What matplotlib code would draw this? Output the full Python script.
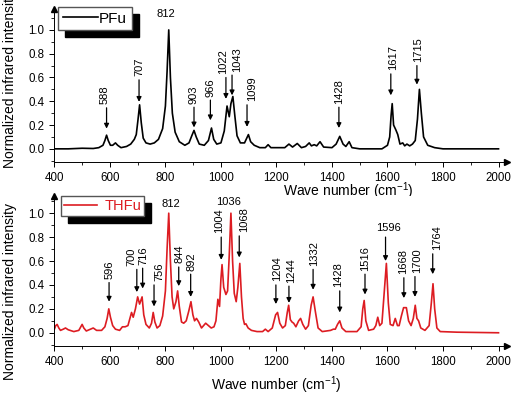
import matplotlib
matplotlib.use('Agg')
import matplotlib.pyplot as plt
from matplotlib.ticker import MultipleLocator

plt.rcParams['font.family'] = ['Liberation Sans', 'DejaVu Sans']
plt.rcParams['mathtext.fontset'] = 'custom'
plt.rcParams['mathtext.rm'] = 'Liberation Sans'

# spectra (wavenumber, normalized intensity)

pfu_x = [400, 450, 500, 540, 560, 575, 582, 588, 594, 602, 610, 620, 628, 640, 660,
         675, 688, 695, 701, 707, 713, 720, 730, 745, 760, 775, 790, 800, 806, 812,
         818, 825, 835, 850, 870, 885, 895, 903, 911, 922, 940, 955, 966, 974, 985,
         1000, 1012, 1022, 1030, 1036, 1043, 1050, 1058, 1070, 1085, 1093, 1099, 1107,
         1120, 1140, 1160, 1170, 1180, 1230, 1245, 1258, 1275, 1290, 1305, 1318, 1326,
         1336, 1345, 1357, 1370, 1400, 1415, 1428, 1440, 1450, 1462, 1472, 1500, 1580,
         1600, 1608, 1613, 1617, 1622, 1630, 1637, 1645, 1655, 1662, 1670, 1680, 1690,
         1700, 1708, 1715, 1722, 1730, 1745, 1770, 1800, 2000]
pfu_y = [0.0, 0.0, 0.005, 0.003, 0.01, 0.03, 0.07, 0.115, 0.07, 0.03, 0.03, 0.05, 0.03, 0.01, 0.02,
         0.04, 0.08, 0.12, 0.24, 0.37, 0.22, 0.09, 0.05, 0.04, 0.05, 0.08, 0.17, 0.36, 0.65, 1.0,
         0.6, 0.3, 0.14, 0.06, 0.03, 0.05, 0.11, 0.155, 0.1, 0.04, 0.03, 0.07, 0.175, 0.08, 0.04,
         0.05, 0.15, 0.36, 0.27, 0.38, 0.44, 0.28, 0.11, 0.05, 0.05, 0.09, 0.12, 0.06,
         0.03, 0.01, 0.01, 0.035, 0.01, 0.01, 0.04, 0.015, 0.045, 0.01, 0.02, 0.05, 0.025,
         0.035, 0.025, 0.06, 0.015, 0.01, 0.04, 0.105, 0.04, 0.02, 0.06, 0.01, 0.0, 0.0,
         0.03, 0.1, 0.28, 0.38, 0.2, 0.16, 0.12, 0.04, 0.05, 0.025, 0.04, 0.025, 0.04,
         0.07, 0.25, 0.5, 0.3, 0.1, 0.03, 0.01, 0.0, 0.0]

thfu_x = [400, 405, 410, 416, 422, 432, 440, 450, 470, 488, 495, 500, 506, 515, 530,
          540, 552, 570, 582, 590, 596, 602, 610, 620, 635, 645, 655, 665, 672, 678,
          684, 692, 700, 707, 716, 722, 730, 742, 750, 756, 762, 770, 780, 790, 800,
          806, 812, 818, 824, 830, 838, 844, 850, 858, 866, 875, 884, 892, 899, 905,
          912, 920, 930, 945, 955, 965, 975, 982, 989, 995, 1000, 1004, 1010, 1018, 1024,
          1030, 1036, 1042, 1048, 1055, 1061, 1068, 1074, 1080, 1085, 1090, 1098, 1110, 1130,
          1150, 1160, 1170, 1185, 1197, 1204, 1212, 1222, 1232, 1239, 1244, 1250, 1256, 1262,
          1270, 1280, 1287, 1295, 1305, 1315, 1325, 1332, 1340, 1350, 1365, 1395, 1405, 1412,
          1420, 1428, 1436, 1450, 1490, 1505, 1511, 1516, 1522, 1532, 1550, 1558, 1565, 1572,
          1580, 1587, 1596, 1603, 1610, 1620, 1628, 1636, 1642, 1650, 1658, 1668, 1676, 1685,
          1693, 1700, 1706, 1712, 1720, 1735, 1750, 1758, 1764, 1770, 1778, 1790, 1850, 2000]
thfu_y = [0.03, 0.06, 0.07, 0.04, 0.02, 0.03, 0.04, 0.025, 0.01, 0.02, 0.05, 0.07, 0.04, 0.015, 0.03,
          0.04, 0.02, 0.02, 0.05, 0.12, 0.2, 0.13, 0.06, 0.03, 0.02, 0.05, 0.05, 0.06, 0.12, 0.17,
          0.13, 0.2, 0.3, 0.24, 0.3, 0.15, 0.07, 0.04, 0.08, 0.17, 0.09, 0.04, 0.06, 0.14, 0.35,
          0.7, 1.0, 0.6, 0.3, 0.2, 0.26, 0.35, 0.22, 0.09, 0.08, 0.1, 0.18, 0.26, 0.15, 0.1,
          0.12, 0.09, 0.04, 0.08, 0.06, 0.04, 0.05, 0.1, 0.28, 0.22, 0.45, 0.57, 0.38, 0.32, 0.35,
          0.65, 1.0, 0.6, 0.33, 0.26, 0.38, 0.58, 0.3, 0.12, 0.07, 0.075, 0.04, 0.02, 0.01,
          0.01, 0.03, 0.01, 0.04, 0.15, 0.17, 0.08, 0.04, 0.06, 0.17, 0.23, 0.11, 0.09, 0.08,
          0.05, 0.1, 0.12, 0.07, 0.03, 0.06, 0.23, 0.3, 0.18, 0.04, 0.01, 0.02, 0.03, 0.03,
          0.07, 0.1, 0.04, 0.01, 0.01, 0.05, 0.2, 0.27, 0.1, 0.02, 0.03, 0.06, 0.13, 0.06,
          0.08, 0.3, 0.58, 0.25, 0.07, 0.06, 0.12, 0.06, 0.06, 0.14, 0.21, 0.21, 0.1, 0.06,
          0.12, 0.23, 0.12, 0.1, 0.04, 0.02, 0.06, 0.25, 0.41, 0.2, 0.04, 0.01, 0.005, 0.0]

# peak labels: label, arrow x, arrow tail y, arrow tip y, label x
pfu_labels = ['588', '707', '903', '966', '1022', '1043', '1099', '1428', '1617', '1715']
pfu_arrow_x = [588, 705, 903, 962, 1018, 1040, 1094, 1425, 1612, 1706]
pfu_tail = [0.345, 0.58, 0.35, 0.41, 0.6, 0.62, 0.37, 0.35, 0.63, 0.7]
pfu_tip = [0.17, 0.395, 0.18, 0.24, 0.42, 0.45, 0.185, 0.175, 0.45, 0.54]
pfu_label_x = [582, 708, 900, 961, 1007, 1058, 1112, 1425, 1620, 1710]

thfu_labels = ['596', '700', '716', '756', '844', '892', '1004', '1068', '1204', '1244',
               '1332', '1428', '1516', '1596', '1668', '1700', '1764']
thfu_arrow_x = [597, 697, 718, 759, 848, 891, 1001, 1066, 1198, 1245,
                1332, 1428, 1519, 1593, 1659, 1699, 1763]
thfu_tail = [0.42, 0.53, 0.54, 0.40, 0.55, 0.49, 0.8, 0.81, 0.40, 0.39,
             0.53, 0.35, 0.49, 0.8, 0.46, 0.47, 0.66]
thfu_tip = [0.26, 0.34, 0.37, 0.22, 0.39, 0.30, 0.61, 0.63, 0.24, 0.25,
            0.36, 0.17, 0.32, 0.6, 0.29, 0.30, 0.49]
thfu_label_x = [600, 679, 720, 777, 852, 894, 994, 1084, 1202, 1251,
                1335, 1422, 1519, None, 1657, 1705, 1777]

red = '#dd1c22'

fig = plt.figure(figsize=(5.13, 3.94), dpi=100)
ax1 = fig.add_axes([0.106, 0.589, 0.882, 0.388])
ax2 = fig.add_axes([0.106, 0.122, 0.882, 0.381])


def style_axes(ax, ytop):
    ax.set_xlim(400, 2030)
    ax.set_ylim(-0.11, ytop)
    ax.spines['top'].set_visible(False)
    ax.spines['right'].set_visible(False)
    ax.xaxis.set_minor_locator(MultipleLocator(100))
    ax.set_xticks(range(400, 2001, 200))
    ax.set_yticks([0.0, 0.2, 0.4, 0.6, 0.8, 1.0])
    ax.yaxis.set_minor_locator(MultipleLocator(0.1))
    ax.tick_params(which='major', length=3.5, width=0.7, labelsize=8.3)
    ax.tick_params(which='minor', length=2, width=0.6)
    for s in ax.spines.values():
        s.set_linewidth(0.7)
    ax.plot(1, 0, '>k', ms=4, transform=ax.transAxes, clip_on=False)
    ax.plot(0, 1, '^k', ms=4, transform=ax.transAxes, clip_on=False)


def add_arrows(ax, labels, ax_x, tail, tip, lab_x):
    for i in range(len(labels)):
        ax.annotate('', xy=(ax_x[i], tip[i]), xytext=(ax_x[i], tail[i]),
                    arrowprops=dict(arrowstyle='-|>', color='k', lw=0.9,
                                    mutation_scale=7, shrinkA=0, shrinkB=0))
        if lab_x[i] is not None:
            ax.text(lab_x[i], tail[i] + 0.03, labels[i], rotation=90,
                    ha='center', va='bottom', fontsize=8)


# top panel
ax1.plot(pfu_x, pfu_y, color='k', lw=1.2, label='PFu')
style_axes(ax1, 1.175)
add_arrows(ax1, pfu_labels, pfu_arrow_x, pfu_tail, pfu_tip, pfu_label_x)
ax1.text(802, 1.13, '812', ha='center', va='center', fontsize=8)
ax1.set_xlabel('Wave number (cm$^{-1}$)', fontsize=10)
ax1.xaxis.set_label_coords(0.649, -0.118)
ax1.set_ylabel('Normalized infrared intensity', fontsize=10)
ax1.yaxis.set_label_coords(-0.082, 0.536)
ax1.legend(loc='upper left', bbox_to_anchor=(0.008, 1.013), borderaxespad=0,
           fontsize=11, handlelength=2.3, handletextpad=0.1, borderpad=0.3,
           fancybox=False, edgecolor='#555555', framealpha=1,
           shadow={'ox': 5, 'oy': -5, 'facecolor': 'k', 'edgecolor': 'k', 'alpha': 1})

# bottom panel
ax2.plot(thfu_x, thfu_y, color=red, lw=1.2, label='THFu')
style_axes(ax2, 1.145)
add_arrows(ax2, thfu_labels, thfu_arrow_x, thfu_tail, thfu_tip, thfu_label_x)
ax2.text(820, 1.08, '812', ha='center', va='center', fontsize=8)
ax2.text(1027, 1.09, '1036', ha='center', va='center', fontsize=8)
ax2.text(1602, 0.88, '1596', ha='center', va='center', fontsize=8)
ax2.set_xlabel('Wave number (cm$^{-1}$)', fontsize=10)
ax2.xaxis.set_label_coords(0.49, -0.19)
ax2.set_ylabel('Normalized infrared intensity', fontsize=10)
ax2.yaxis.set_label_coords(-0.082, 0.36)
leg = ax2.legend(loc='upper left', bbox_to_anchor=(0.014, 1.0), borderaxespad=0,
                 fontsize=10.5, handlelength=2.3, handletextpad=0.5, borderpad=0.2,
                 fancybox=False, edgecolor='#555555', framealpha=1,
                 shadow={'ox': 5, 'oy': -5, 'facecolor': 'k', 'edgecolor': 'k', 'alpha': 1})
for t in leg.get_texts():
    t.set_color(red)

fig.savefig('out.png', dpi=100)
